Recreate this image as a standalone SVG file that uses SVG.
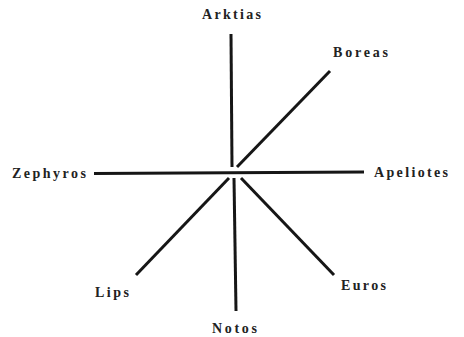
<svg xmlns="http://www.w3.org/2000/svg" width="464" height="337" viewBox="0 0 464 337">
<style>
.lbl{font-family:"Liberation Serif","Times New Roman",serif;font-weight:bold;font-size:14px;fill:#222;}
.ray{stroke:#161616;stroke-width:3;stroke-linecap:butt;fill:none;}
</style>
<rect width="464" height="337" fill="#ffffff"/>
<g id="connectors">
<line class="ray" x1="231" y1="34" x2="232" y2="167"/>
<line class="ray" x1="330" y1="71" x2="237" y2="167"/>
<line class="ray" x1="94" y1="173.5" x2="364" y2="172"/>
<line class="ray" x1="136" y1="275" x2="229" y2="178"/>
<line class="ray" x1="236" y1="311" x2="234" y2="178"/>
<line class="ray" x1="334" y1="275" x2="241" y2="178"/>
</g>
<g id="arktias"><text class="lbl" x="202" y="19" textLength="59" lengthAdjust="spacing">Arktias</text></g>
<g id="boreas"><text class="lbl" x="333" y="57" textLength="55" lengthAdjust="spacing">Boreas</text></g>
<g id="zephyros"><text class="lbl" x="12" y="178" textLength="74" lengthAdjust="spacing">Zephyros</text></g>
<g id="apeliotes"><text class="lbl" x="374" y="177" textLength="74" lengthAdjust="spacing">Apeliotes</text></g>
<g id="lips"><text class="lbl" x="95" y="297" textLength="34" lengthAdjust="spacing">Lips</text></g>
<g id="notos"><text class="lbl" x="212" y="333" textLength="45" lengthAdjust="spacing">Notos</text></g>
<g id="euros"><text class="lbl" x="341" y="290" textLength="45" lengthAdjust="spacing">Euros</text></g>
</svg>
